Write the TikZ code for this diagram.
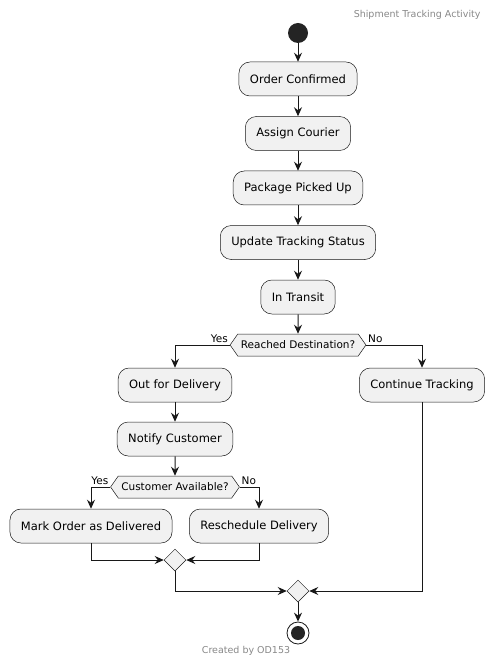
\documentclass[tikz,border=0pt]{standalone}
\usepackage{fontspec}
\setmainfont{DejaVu Sans}
\usetikzlibrary{arrows.meta,positioning,shapes.geometric,shapes.symbols}
\definecolor{boxfill}{HTML}{F1F1F1}
\definecolor{lineclr}{HTML}{181818}
\definecolor{noteclr}{HTML}{888888}

\begin{document}
\begin{tikzpicture}[x=1pt,y=-1pt,>={Stealth[length=9pt,width=8pt,inset=3pt]},node distance=54.5pt,on grid,
	action/.style={draw=lineclr,fill=boxfill,line width=0.5pt,rounded corners=11pt,minimum height=34pt,inner xsep=11pt,font=\fontsize{11.5}{13}\selectfont},
	choice/.style={draw=lineclr,fill=boxfill,line width=0.5pt,shape=signal,signal to=east and west,signal pointer angle=110,minimum height=22pt,inner xsep=3pt,inner ysep=0pt,font=\fontsize{10.5}{12}\selectfont},
	merge/.style={draw=lineclr,fill=boxfill,line width=0.5pt,diamond,minimum width=22pt,minimum height=22pt,inner sep=0pt},
	flow/.style={->,draw=lineclr,line width=1pt},
	lbl/.style={font=\fontsize{10.5}{12}\selectfont,inner sep=1.5pt},
	note/.style={text=noteclr,font=\fontsize{9.5}{11}\selectfont}]
	\useasboundingbox (0,0) rectangle (495,668);
	\node[note,anchor=east] (title) at (484,15) {Shipment Tracking Activity};
	\node[circle,fill=lineclr!95,minimum size=20pt,inner sep=0pt] (start) at (298,33) {};
	\node[action] (oc) at (298,79)    {Order Confirmed};
	\node[action] (ac)  [below =of oc] {Assign Courier};
	\node[action] (ppu) [below =of ac] {Package Picked Up};
	\node[action] (uts) [below =of ppu] {Update Tracking Status};
	\node[action] (it)  [below =of uts] {In Transit};
	\node[choice] (dest) [below =48pt of it] {Reached Destination?};
	\node[action] (ofd) [below left =40pt and 123pt of dest] {Out for Delivery};
	\node[action] (ct)  [below right =40pt and 124pt of dest] {Continue Tracking};
	\node[action] (nc)  [below =54pt of ofd] {Notify Customer};
	\node[choice] (avail) [below =48pt of nc] {Customer Available?};
	\node[action] (mod) [below left =39pt and 84pt of avail] {Mark Order as Delivered};
	\node[action] (rd)  [below right =39pt and 84pt of avail] {Reschedule Delivery};
	\node[merge] (m1) [below =73pt of avail] {};
	\node[merge] (m2) at (298,591) {};
	\node[circle,draw=lineclr,fill=white,line width=0.8pt,minimum size=22pt,inner sep=0pt] (stop) [below =42pt of m2] {};
	\node[circle,fill=lineclr!95,minimum size=14pt,inner sep=0pt] (stopdot) at (stop) {};
	\node[note] (credit) at (246,651) {Created by OD153};

	\draw[flow] (start) -- (oc);
	\draw[flow] (oc) -- (ac);
	\draw[flow] (ac) -- (ppu);
	\draw[flow] (ppu) -- (uts);
	\draw[flow] (uts) -- (it);
	\draw[flow] (it) -- (dest);
	\draw[flow] (dest.west) node[lbl,above left] {Yes} -| (ofd);
	\draw[flow] (dest.east) node[lbl,above right] {No} -| (ct);
	\draw[flow] (ofd) -- (nc);
	\draw[flow] (nc) -- (avail);
	\draw[flow] (avail.west) node[lbl,above left] {Yes} -| (mod);
	\draw[flow] (avail.east) node[lbl,above right] {No} -| (rd);
	\draw[flow] (mod) |- (m1);
	\draw[flow] (rd) |- (m1);
	\draw[flow] (m1) |- (m2);
	\draw[flow] (ct) |- (m2);
	\draw[flow] (m2) -- (stop);
\end{tikzpicture}
\end{document}
